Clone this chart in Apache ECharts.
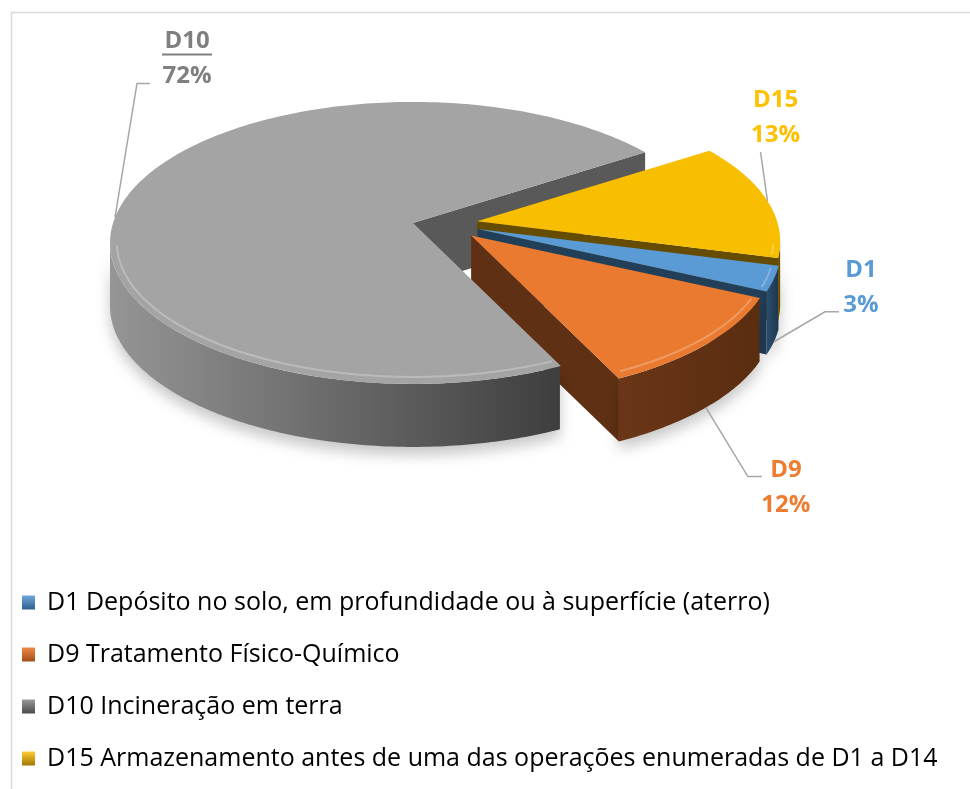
<!DOCTYPE html>
<html>
<head>
<meta charset="utf-8">
<script src="https://cdn.jsdelivr.net/npm/echarts@6/dist/echarts.min.js"></script>
<style>
  html, body { margin: 0; padding: 0; background: #fff; }
  #main { width: 970px; height: 789px; }
</style>
</head>
<body>
<div id="main"></div>
<script>
// dados do gráfico
var categories = [
  'D1 Depósito no solo, em profundidade ou à superfície (aterro)',
  'D9 Tratamento Físico-Químico',
  'D10 Incineração em terra',
  'D15 Armazenamento antes de uma das operações enumeradas de D1 a D14'
];
var shortNames = ['D1', 'D9', 'D10', 'D15'];
var values = [3, 12, 72, 13];

// cores
var topColors = ['#5B9BD5', '#E97A30', '#A4A4A4', '#F8BE00'];
var faceColors = ['#223F5A', '#5F3013', '#595959', '#664C00'];
var wallColors = [['#2C4F70', '#1E3850'], ['#6A3617', '#5A2D10'], ['#959595', '#3E3E3E'], ['#7A5B00', '#5E4600']];
var labelColors = ['#5B9BD5', '#ED7D31', '#7F7F7F', '#FFC000'];
var legendColors = [['#6FA8DC', '#2F5F8F'], ['#F08A45', '#A04E18'], ['#9A9A9A', '#4A4A4A'], ['#FFCC33', '#A07800']];

// geometria da tarte 3D
var CX = 445.5, CY = 225.7;      // vértice da tarte sem explosão
var RX = 303, RY = 141, LIFT = 20, DEPTH = 63, EXPLODE = 0.109;
var START = -6.8;                // ângulo (graus, matemático) onde começa D1

// posição das etiquetas: cotovelo relativo ao ponto de ligação, cauda, centro do texto
var labelLayout = [
  { elbow: [51, -30], tail: 14, text: [22, -24] },
  { elbow: [42, 69], tail: 14, text: [24, 11] },
  { elbow: [22, -134], tail: 13, text: [37, -25] },
  { elbow: [-7, -49], tail: 0, text: [15, -34] }
];

var total = values.reduce(function (a, b) { return a + b; }, 0);
var rad = Math.PI / 180;

function renderSlice(params, api) {
  var i = params.seriesIndex;
  var v = api.value(0);
  var before = 0;
  for (var k = 0; k < i; k++) before += values[k];
  var aHi = START - before / total * 360;
  var aLo = aHi - v / total * 360;
  var mid = (aHi + aLo) / 2;
  var ox = CX + EXPLODE * RX * Math.cos(mid * rad);
  var oy = CY - EXPLODE * RY * Math.sin(mid * rad);

  function pt(t, dz) {
    return [ox + RX * Math.cos(t * rad), oy + LIFT - RY * Math.sin(t * rad) + dz];
  }
  function arc(a, b, dz) {
    var pts = [];
    var n = Math.max(2, Math.ceil(Math.abs(b - a)));
    for (var s = 0; s <= n; s++) pts.push(pt(a + (b - a) * s / n, dz));
    return pts;
  }

  var children = [];

  // faces radiais visíveis (as mais próximas desenhadas por cima)
  if (Math.cos(aLo * rad) > 0) {
    children.push({
      type: 'polygon', z2: 1.5 - 0.5 * Math.sin(aLo * rad),
      shape: { points: [[ox, oy], pt(aLo, 0), pt(aLo, DEPTH), [ox, oy + DEPTH]] },
      style: { fill: faceColors[i] }
    });
  }
  if (Math.cos(aHi * rad) < 0) {
    children.push({
      type: 'polygon', z2: 1.5 - 0.5 * Math.sin(aHi * rad),
      shape: { points: [[ox, oy], pt(aHi, 0), pt(aHi, DEPTH), [ox, oy + DEPTH]] },
      style: { fill: faceColors[i] }
    });
  }

  // parede exterior (metade da frente)
  var segs = [], cur = null;
  for (var t = aLo; t <= aHi + 1e-6; t += 0.5) {
    var tt = Math.min(t, aHi);
    if (Math.sin(tt * rad) <= 1e-6) {
      if (!cur) { cur = [tt, tt]; segs.push(cur); }
      cur[1] = tt;
    } else {
      cur = null;
    }
  }
  segs.forEach(function (sg) {
    if (sg[1] - sg[0] < 0.1) return;
    var pts = arc(sg[0], sg[1], 0).concat(arc(sg[1], sg[0], DEPTH));
    children.push({
      type: 'polygon', z2: 2,
      shape: { points: pts },
      style: {
        fill: {
          type: 'linear', x: 0, y: 0, x2: 1, y2: 0,
          colorStops: [{ offset: 0, color: wallColors[i][0] }, { offset: 1, color: wallColors[i][1] }]
        },
        shadowColor: 'rgba(0,0,0,0.22)', shadowBlur: 14, shadowOffsetY: 8
      }
    });
  });

  // topo
  children.push({
    type: 'polygon', z2: 10,
    shape: { points: [[ox, oy]].concat(arc(aLo, aHi, 0)) },
    style: { fill: topColors[i] }
  });

  // realce do rebordo na parte da frente
  segs.forEach(function (sg) {
    if (sg[1] - sg[0] < 2) return;
    var a = sg[0] + 1, b = sg[1] - 1;
    var inner = [];
    var n = Math.ceil(b - a);
    for (var s = 0; s <= n; s++) {
      var th = (a + (b - a) * s / n) * rad;
      inner.push([ox + (RX - 7) * Math.cos(th), oy + LIFT - (RY - 7) * Math.sin(th)]);
    }
    children.push({
      type: 'polyline', z2: 11,
      shape: { points: inner },
      style: { stroke: 'rgba(255,255,255,0.25)', lineWidth: 2, fill: null }
    });
  });

  // etiqueta com linha de chamada
  var lay = labelLayout[i];
  var attach = pt(mid, Math.sin(mid * rad) < 0 ? DEPTH : 0);
  var elbow = [attach[0] + lay.elbow[0], attach[1] + lay.elbow[1]];
  var tailEnd = [elbow[0] + lay.tail, elbow[1]];
  children.push({
    type: 'polyline', z2: 20,
    shape: { points: [attach, elbow, tailEnd] },
    style: { stroke: '#A6A6A6', lineWidth: 1.5, fill: null }
  });
  var lx = tailEnd[0] + lay.text[0], ly = tailEnd[1] + lay.text[1];
  children.push({
    type: 'text', z2: 20,
    x: lx, y: ly,
    style: {
      text: shortNames[i] + '\n' + Math.round(v / total * 100) + '%',
      fill: labelColors[i],
      font: 'bold 24px "Open Sans"',
      lineHeight: 35,
      align: 'center',
      verticalAlign: 'middle'
    }
  });
  if (shortNames[i] === 'D10') {
    children.push({
      type: 'line', z2: 20,
      shape: { x1: lx - 25, y1: ly - 4, x2: lx + 25, y2: ly - 4 },
      style: { stroke: labelColors[i], lineWidth: 2 }
    });
  }

  return { type: 'group', children: children };
}

var chart = echarts.init(document.getElementById('main'));

var series = categories.map(function (name, i) {
  return {
    name: name,
    type: 'custom',
    coordinateSystem: 'none',
    silent: true,
    itemStyle: { color: topColors[i] },
    renderItem: renderSlice,
    data: [values[i]]
  };
});

chart.setOption({
  animation: false,
  backgroundColor: '#fff',
  graphic: [{
    type: 'rect', left: 9, top: 10, z: -10,
    shape: { width: 1000, height: 1000 },
    style: { fill: null, stroke: '#D9D9D9', lineWidth: 1.5 }
  }],
  legend: {
    orient: 'vertical',
    left: 17,
    top: 585,
    itemGap: 27,
    itemWidth: 13,
    itemHeight: 14,
    icon: 'rect',
    selectedMode: false,
    data: categories.map(function (name, i) {
      return {
        name: name,
        itemStyle: {
          color: {
            type: 'linear', x: 0, y: 0, x2: 0, y2: 1,
            colorStops: [{ offset: 0, color: legendColors[i][0] }, { offset: 1, color: legendColors[i][1] }]
          }
        }
      };
    }),
    textStyle: {
      fontFamily: 'Open Sans',
      fontSize: 25,
      color: '#000',
      lineHeight: 24,
      padding: [0, 0, 0, 7]
    }
  },
  series: series
});
</script>
</body>
</html>
